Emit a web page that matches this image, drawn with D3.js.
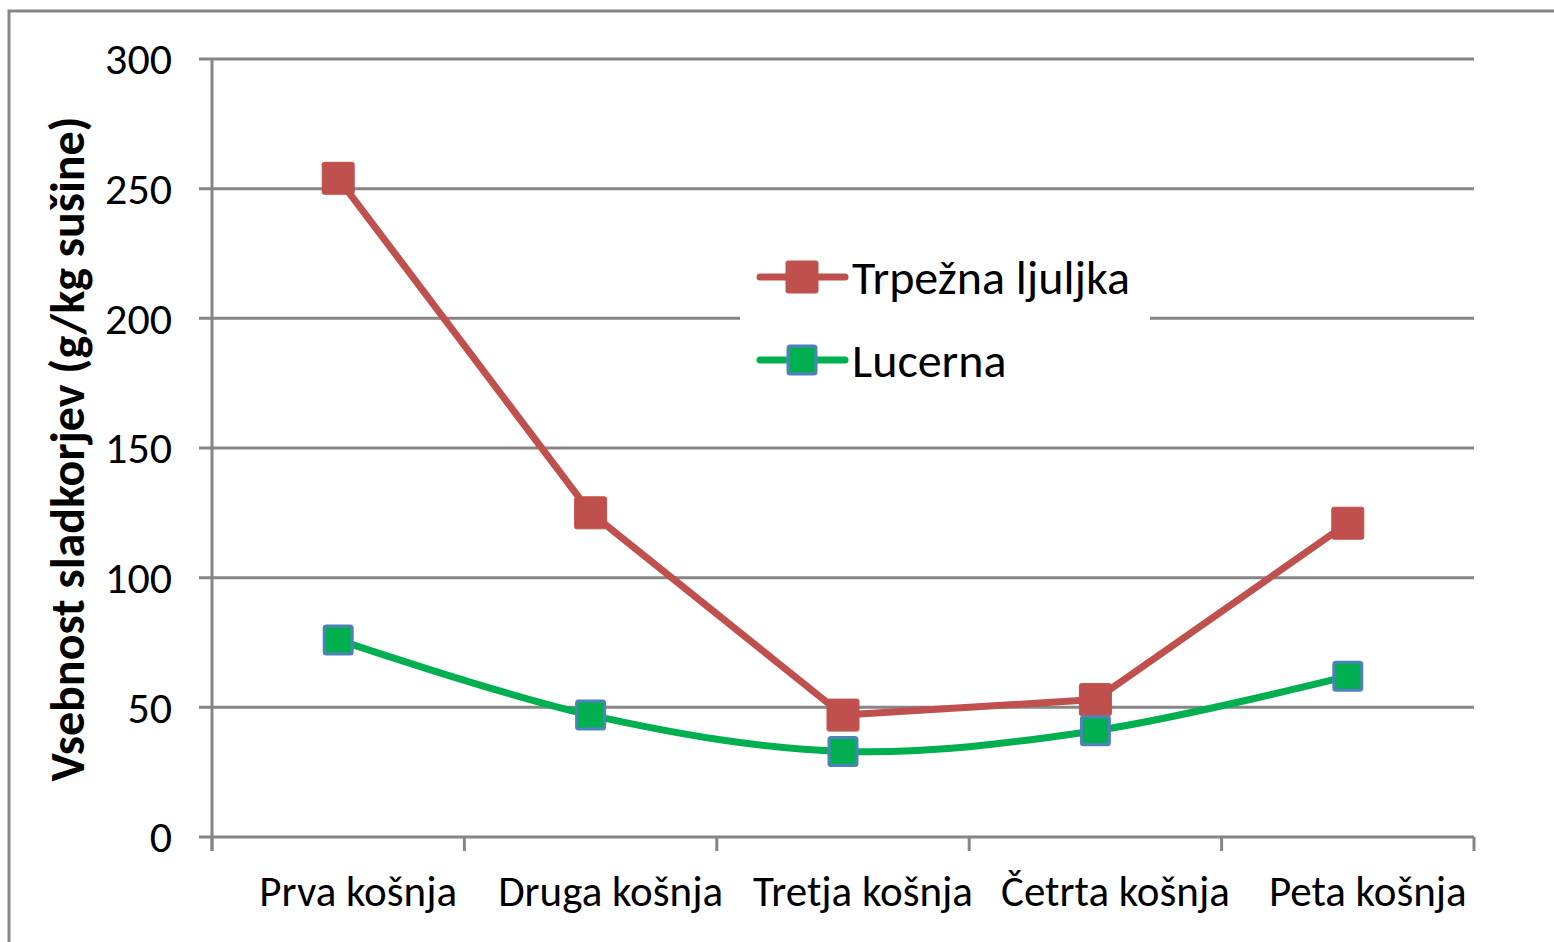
<!DOCTYPE html>
<html>
<head>
<meta charset="utf-8">
<script src="https://cdn.jsdelivr.net/npm/d3@7"></script>
<style>
  body { margin: 0; background: #fff; }
  svg { display: block; }
  text { font-family: Carlito, Calibri, "Open Sans", sans-serif; fill: #000; }
</style>
</head>
<body>
<div id="chart"></div>
<script>
var categories = ["Prva košnja", "Druga košnja", "Tretja košnja", "Četrta košnja", "Peta košnja"];
var ljuljka = [254, 125, 47, 53, 121];
var lucerna = [76, 47, 33, 41, 62];
var yTicks = [0, 50, 100, 150, 200, 250, 300];

var W = 1554, H = 942;
var m = { left: 212, right: 80, top: 59, bottom: 105 };

var svg = d3.select("#chart").append("svg").attr("width", W).attr("height", H);

// outer frame
svg.append("rect")
    .attr("x", 9).attr("y", 11)
    .attr("width", W + 20).attr("height", H + 20)
    .attr("fill", "none").attr("stroke", "#868686").attr("stroke-width", 3);

var x = d3.scaleBand().domain(categories).range([m.left, W - m.right]).padding(0);
var y = d3.scaleLinear().domain([0, 300]).range([H - m.bottom, m.top]);

// gridlines
svg.append("g")
    .selectAll("line")
    .data(yTicks)
    .join("line")
    .attr("x1", m.left - 13).attr("x2", W - m.right)
    .attr("y1", d => y(d)).attr("y2", d => y(d))
    .attr("stroke", "#868686").attr("stroke-width", 3);

// y axis line
svg.append("line")
    .attr("x1", m.left).attr("x2", m.left)
    .attr("y1", y(300)).attr("y2", y(0) + 14)
    .attr("stroke", "#868686").attr("stroke-width", 3);

// y labels
svg.append("g")
    .selectAll("text")
    .data(yTicks)
    .join("text")
    .attr("x", 172).attr("y", d => y(d))
    .attr("dy", "0.35em")
    .attr("text-anchor", "end")
    .attr("font-size", 44)
    .text(d => d);

// x ticks at band boundaries
var bounds = categories.map(c => x(c)).concat([x.range()[1]]);
svg.append("g")
    .selectAll("line")
    .data(bounds)
    .join("line")
    .attr("x1", d => d).attr("x2", d => d)
    .attr("y1", y(0)).attr("y2", y(0) + 14)
    .attr("stroke", "#868686").attr("stroke-width", 3);

// x labels (excel nudges them a bit to the right)
svg.append("g")
    .selectAll("text")
    .data(categories)
    .join("text")
    .attr("x", d => x(d) + x.bandwidth() / 2 + 20)
    .attr("y", 906)
    .attr("text-anchor", "middle")
    .attr("font-size", 43)
    .text(d => d);

// y title
svg.append("text")
    .attr("transform", "translate(84," + ((y(0) + y(300)) / 2 + 1) + ") rotate(-90)")
    .attr("text-anchor", "middle")
    .attr("font-size", 48)
    .attr("font-weight", "bold")
    .text("Vsebnost sladkorjev (g/kg sušine)");

var cx = d => x(d) + x.bandwidth() / 2;

var redLine = d3.line().x((d, i) => cx(categories[i])).y(d => y(d));
var greenLine = d3.line().x((d, i) => cx(categories[i])).y(d => y(d)).curve(d3.curveCardinal.tension(0));

svg.append("path").datum(ljuljka)
    .attr("d", redLine)
    .attr("fill", "none").attr("stroke", "#C0504D").attr("stroke-width", 7)
    .attr("stroke-linejoin", "round").attr("stroke-linecap", "round");

svg.append("path").datum(lucerna)
    .attr("d", greenLine)
    .attr("fill", "none").attr("stroke", "#00B050").attr("stroke-width", 7)
    .attr("stroke-linecap", "round");

svg.append("g").selectAll("rect")
    .data(ljuljka)
    .join("rect")
    .attr("x", (d, i) => cx(categories[i]) - 16)
    .attr("y", d => y(d) - 16)
    .attr("width", 32).attr("height", 32)
    .attr("rx", 2)
    .attr("fill", "#C0504D").attr("stroke", "#C0504D").attr("stroke-width", 1);

svg.append("g").selectAll("rect")
    .data(lucerna)
    .join("rect")
    .attr("x", (d, i) => cx(categories[i]) - 14)
    .attr("y", d => y(d) - 14)
    .attr("width", 28).attr("height", 28)
    .attr("rx", 2)
    .attr("fill", "#00B050").attr("stroke", "#4F81BD").attr("stroke-width", 3);

// legend
var legend = svg.append("g");
legend.append("rect")
    .attr("x", 740).attr("y", 245)
    .attr("width", 410).attr("height", 145)
    .attr("fill", "#fff");

var items = [
    { name: "Trpežna ljuljka", color: "#C0504D", border: "#C0504D", size: 32 },
    { name: "Lucerna", color: "#00B050", border: "#4F81BD", size: 28 }
];
items.forEach(function (it, i) {
    var yy = 277 + i * 83;
    legend.append("line")
        .attr("x1", 760).attr("x2", 845)
        .attr("y1", yy).attr("y2", yy)
        .attr("stroke", it.color).attr("stroke-width", 7)
        .attr("stroke-linecap", "round");
    legend.append("rect")
        .attr("x", 802 - it.size / 2).attr("y", yy - it.size / 2)
        .attr("width", it.size).attr("height", it.size)
        .attr("rx", 2)
        .attr("fill", it.color).attr("stroke", it.border).attr("stroke-width", i ? 3 : 1);
    legend.append("text")
        .attr("x", 852).attr("y", yy)
        .attr("dy", "0.35em")
        .attr("font-size", 48)
        .text(it.name);
});
</script>
</body>
</html>
